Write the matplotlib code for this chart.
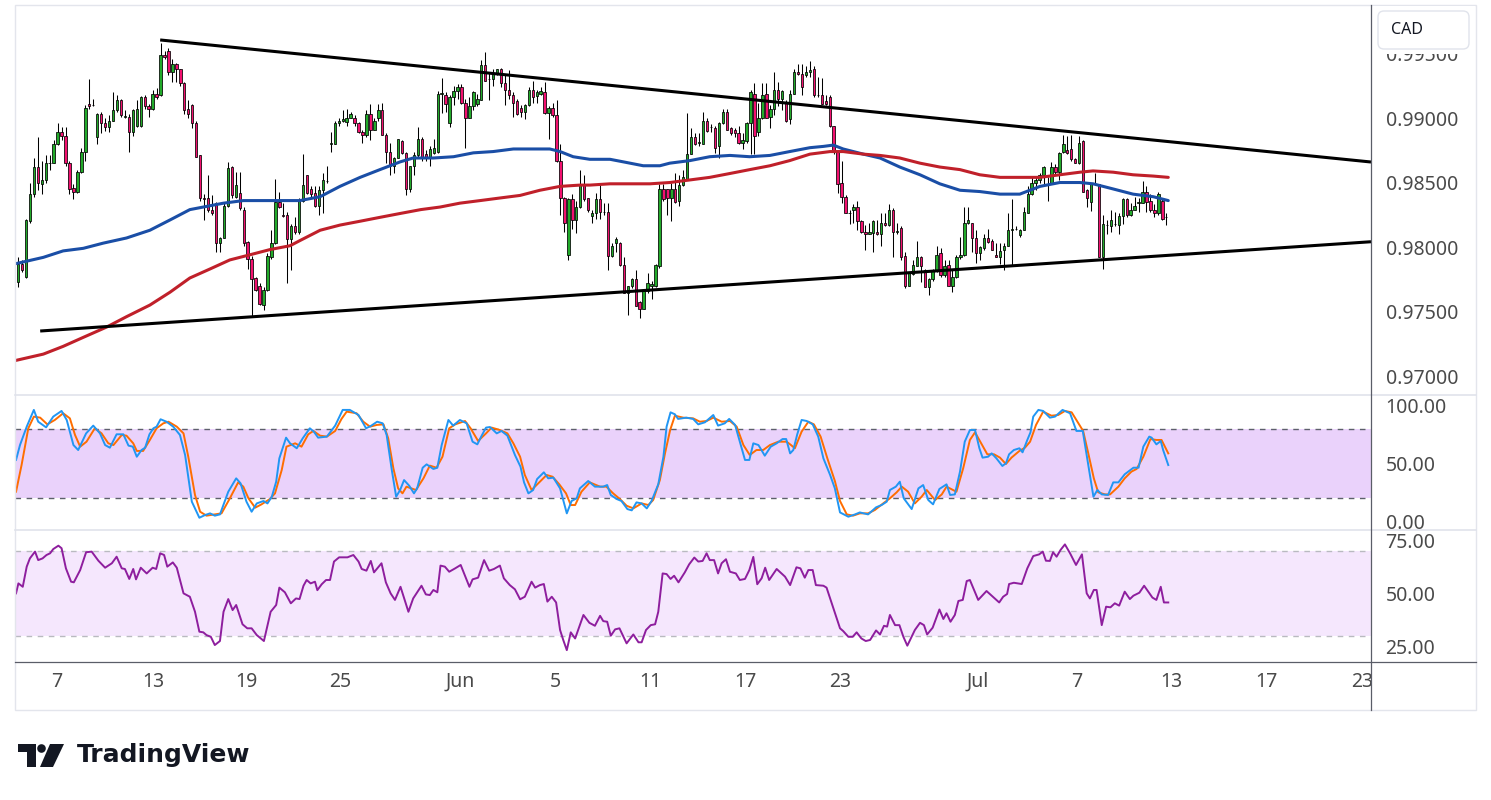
import numpy as np
import matplotlib
matplotlib.use('Agg')
import matplotlib.pyplot as plt
from matplotlib.patches import Rectangle, FancyBboxPatch, Polygon, Circle

plt.rcParams['font.family'] = ['Noto Sans', 'DejaVu Sans']

# ---------------- DATA (prices in pips, 1 pip = 0.0001) ----------------
opens = [
 9773, 9787, 9777, 9820, 9841, 9862, 9849, 9852, 9865, 9865,
 9880, 9889, 9886, 9865, 9846, 9843, 9858, 9874, 9911, 9910,
 9885, 9903, 9896, 9893, 9898, 9906, 9914, 9901, 9901, 9889,
 9894, 9894, 9916, 9909, 9907, 9919, 9918, 9949, 9952, 9936,
 9942, 9938, 9927, 9907, 9910, 9896, 9871, 9838, 9838, 9829,
 9834, 9803, 9807, 9832, 9862, 9839, 9842, 9829, 9804, 9791,
 9776, 9770, 9755, 9767, 9792, 9803, 9835, 9825, 9825, 9806,
 9816, 9812, 9836,
 9856, 9845, 9842, 9832, 9844, 9851, 9880,
 9880, 9896, 9898, 9897, 9900, 9900, 9896, 9889, 9887, 9903,
 9891, 9900, 9906, 9887, 9874, 9863, 9869, 9882, 9873, 9845,
 9863, 9871, 9884, 9872, 9869, 9873, 9874, 9919, 9918, 9896,
 9916, 9921, 9924, 9912, 9900, 9909, 9911, 9914, 9941, 9930,
 9930, 9935, 9938, 9927, 9922, 9918, 9913, 9908, 9905, 9910,
 9922, 9917, 9919, 9920, 9904, 9908, 9902, 9867, 9838, 9794,
 9837, 9821, 9831, 9849, 9838, 9824,
 9826, 9837, 9827, 9827,
 9793, 9803, 9803, 9786, 9764, 9770, 9775, 9757, 9752, 9766,
 9770, 9770, 9785, 9845, 9845, 9838, 9845, 9836, 9848, 9853,
 9872, 9885, 9881, 9880, 9898, 9893, 9892, 9878, 9896, 9905,
 9892, 9891, 9888, 9881, 9882, 9896, 9919, 9889, 9900, 9919,
 9901, 9907, 9922, 9915, 9912, 9899, 9919, 9936, 9934, 9933,
 9936, 9938, 9918, 9918, 9913, 9916, 9894, 9874, 9850, 9839,
 9826, 9829, 9831, 9820, 9812, 9810, 9811, 9812, 9810, 9819,
 9817, 9829, 9812, 9815, 9793, 9770, 9779, 9785, 9792, 9782,
 9769, 9775, 9782, 9795, 9778, 9786, 9770, 9777, 9792, 9794,
 9819, 9819, 9807, 9795, 9799, 9807, 9805, 9794, 9792, 9798,
 9801, 9813, 9814, 9809, 9813, 9826, 9841, 9850, 9852, 9856,
 9849, 9849, 9862, 9858, 9874, 9875, 9876, 9868, 9865, 9882,
 9844, 9835, 9849, 9849, 9792, 9817, 9816, 9818, 9817, 9824,
 9837, 9825, 9829, 9834, 9834, 9843, 9836, 9829, 9826, 9836, 9823]

closes = [
 9787, 9782, 9821, 9841, 9862, 9850, 9852, 9865, 9865, 9880,
 9889, 9886, 9865, 9845, 9843, 9858, 9874, 9908, 9909, 9910,
 9903, 9896, 9893, 9898, 9906, 9914, 9902, 9901, 9889, 9906,
 9907, 9916, 9909, 9907, 9919, 9916, 9949, 9947, 9936, 9942,
 9938, 9927, 9906, 9903, 9896, 9870, 9838, 9837, 9829, 9826,
 9803, 9807, 9832, 9861, 9840, 9848, 9830, 9803, 9791, 9775,
 9767, 9756, 9767, 9793, 9803, 9835, 9831, 9824, 9806, 9816,
 9812, 9836, 9848,
 9842, 9841, 9832, 9844, 9852, 9851, 9881,
 9896, 9898, 9899, 9900, 9903, 9896, 9889, 9887, 9903, 9891,
 9898, 9906, 9887, 9874, 9863, 9869, 9884, 9873, 9845, 9863,
 9871, 9884, 9869, 9869, 9876, 9877, 9919, 9919, 9911, 9916,
 9921, 9924, 9912, 9900, 9909, 9920, 9915, 9941, 9929, 9930,
 9935, 9938, 9927, 9922, 9918, 9912, 9903, 9905, 9910, 9922,
 9916, 9920, 9921, 9904, 9908, 9902, 9867, 9838, 9819, 9837,
 9821, 9831, 9849, 9837, 9829, 9826,
 9837, 9827, 9827, 9793,
 9801, 9806, 9786, 9764, 9770, 9775, 9754, 9752, 9766, 9772,
 9771, 9786, 9845, 9837, 9838, 9845, 9835, 9848, 9854, 9872,
 9885, 9880, 9881, 9898, 9890, 9893, 9877, 9896, 9905, 9891,
 9888, 9888, 9881, 9883, 9896, 9920, 9886, 9900, 9918, 9900,
 9907, 9922, 9915, 9921, 9898, 9919, 9936, 9934, 9924, 9936,
 9937, 9918, 9918, 9911, 9911, 9894, 9874, 9849, 9839, 9826,
 9826, 9831, 9820, 9812, 9810, 9812, 9820, 9810, 9819, 9817,
 9829, 9812, 9812, 9792, 9770, 9780, 9786, 9792, 9785, 9769,
 9775, 9782, 9794, 9778, 9785, 9770, 9777, 9792, 9794, 9819,
 9821, 9807, 9795, 9800, 9807, 9804, 9798, 9792, 9797, 9801,
 9813, 9814, 9814, 9813, 9827, 9841, 9850, 9852, 9856, 9862,
 9849, 9862, 9858, 9873, 9880, 9873, 9868, 9865, 9881, 9843,
 9838, 9849, 9849, 9792, 9818, 9817, 9821, 9818, 9824, 9837,
 9825, 9829, 9832, 9835, 9843, 9835, 9829, 9826, 9841, 9822, 9823]

highs = [
 9792, 9790, 9822, 9850, 9869, 9885, 9867, 9871, 9871, 9883,
 9896, 9893, 9893, 9867, 9849, 9860, 9877, 9910, 9930, 9915,
 9904, 9905, 9900, 9902, 9920, 9918, 9915, 9906, 9903, 9907,
 9914, 9917, 9918, 9911, 9922, 9923, 9958, 9952, 9954, 9946,
 9943, 9938, 9928, 9914, 9911, 9898, 9871, 9841, 9856, 9840,
 9835, 9808, 9834, 9866, 9863, 9858, 9858, 9831, 9805, 9793,
 9777, 9772, 9769, 9795, 9813, 9853, 9843, 9834, 9827, 9818,
 9823, 9838, 9872,
 9856, 9847, 9847, 9847, 9857, 9863, 9889,
 9898, 9900, 9906, 9907, 9905, 9902, 9897, 9891, 9906, 9911,
 9900, 9911, 9912, 9888, 9881, 9870, 9884, 9883, 9874, 9863,
 9874, 9893, 9885, 9875, 9878, 9884, 9921, 9931, 9920, 9918,
 9925, 9926, 9926, 9915, 9916, 9921, 9919, 9945, 9951, 9936,
 9938, 9938, 9939, 9933, 9937, 9920, 9915, 9910, 9911, 9924,
 9929, 9922, 9924, 9928, 9909, 9912, 9914, 9880, 9839, 9838,
 9841, 9836, 9860, 9856, 9838, 9829,
 9842, 9849, 9834, 9834,
 9803, 9808, 9804, 9792, 9770, 9776, 9782, 9758, 9767, 9780,
 9774, 9787, 9849, 9849, 9845, 9850, 9857, 9856, 9860, 9904,
 9892, 9888, 9888, 9905, 9900, 9895, 9894, 9897, 9907, 9907,
 9893, 9892, 9894, 9888, 9897, 9922, 9927, 9912, 9927, 9927,
 9910, 9936, 9928, 9922, 9914, 9922, 9938, 9942, 9942, 9940,
 9944, 9940, 9932, 9931, 9918, 9918, 9894, 9875, 9867, 9840,
 9829, 9833, 9836, 9821, 9817, 9819, 9821, 9821, 9826, 9826,
 9833, 9830, 9819, 9816, 9796, 9781, 9790, 9805, 9793, 9783,
 9776, 9783, 9801, 9799, 9790, 9790, 9783, 9794, 9808, 9831,
 9831, 9819, 9813, 9801, 9810, 9814, 9806, 9803, 9803, 9803,
 9826, 9837, 9816, 9814, 9831, 9847, 9854, 9854, 9857, 9863,
 9854, 9866, 9864, 9874, 9887, 9886, 9887, 9869, 9886, 9883,
 9845, 9849, 9857, 9849, 9825, 9821, 9829, 9827, 9826, 9838,
 9838, 9834, 9839, 9838, 9851, 9847, 9841, 9833, 9843, 9838, 9826]

lows = [
 9769, 9781, 9776, 9819, 9839, 9844, 9841, 9850, 9860, 9865,
 9879, 9883, 9863, 9841, 9837, 9842, 9857, 9867, 9907, 9909,
 9880, 9888, 9890, 9889, 9898, 9905, 9901, 9900, 9874, 9886,
 9893, 9893, 9907, 9901, 9906, 9915, 9917, 9946, 9933, 9928,
 9928, 9925, 9903, 9900, 9892, 9870, 9836, 9821, 9827, 9825,
 9796, 9796, 9807, 9831, 9838, 9838, 9829, 9801, 9783, 9746,
 9766, 9755, 9751, 9766, 9791, 9802, 9830, 9823, 9772, 9782,
 9810, 9810, 9835,
 9841, 9839, 9831, 9825, 9826, 9850, 9874,
 9880, 9894, 9897, 9894, 9900, 9894, 9888, 9881, 9885, 9883,
 9891, 9898, 9887, 9865, 9856, 9857, 9869, 9872, 9840, 9843,
 9856, 9870, 9867, 9867, 9863, 9872, 9873, 9904, 9905, 9893,
 9910, 9915, 9911, 9877, 9900, 9906, 9909, 9914, 9929, 9914,
 9925, 9933, 9924, 9910, 9915, 9901, 9902, 9901, 9899, 9909,
 9912, 9912, 9918, 9903, 9884, 9901, 9866, 9825, 9812, 9790,
 9814, 9811, 9830, 9836, 9827, 9819,
 9822, 9822, 9825, 9782,
 9792, 9796, 9785, 9764, 9747, 9768, 9754, 9745, 9752, 9764,
 9760, 9769, 9784, 9836, 9825, 9820, 9834, 9832, 9847, 9852,
 9872, 9879, 9878, 9880, 9889, 9889, 9873, 9869, 9895, 9891,
 9887, 9885, 9880, 9876, 9881, 9872, 9872, 9886, 9899, 9900,
 9892, 9902, 9909, 9906, 9897, 9895, 9919, 9933, 9918, 9932,
 9932, 9916, 9916, 9911, 9910, 9893, 9872, 9842, 9834, 9826,
 9818, 9819, 9813, 9811, 9798, 9810, 9796, 9809, 9801, 9816,
 9816, 9792, 9810, 9790, 9768, 9770, 9778, 9785, 9773, 9769,
 9763, 9774, 9781, 9777, 9777, 9770, 9765, 9776, 9791, 9793,
 9818, 9796, 9788, 9790, 9798, 9803, 9798, 9792, 9787, 9782,
 9801, 9786, 9813, 9808, 9813, 9826, 9840, 9844, 9850, 9847,
 9836, 9849, 9856, 9852, 9873, 9872, 9867, 9865, 9864, 9843,
 9831, 9828, 9848, 9792, 9783, 9810, 9812, 9816, 9810, 9818,
 9823, 9824, 9829, 9827, 9834, 9827, 9827, 9823, 9825, 9821, 9817]

# Moving averages (bar index, price in pips)
ma_blue = [(-0.7,9787),(6.4,9792),(11.4,9797),(16.5,9799),(21.5,9803),(27.4,9807),(33.3,9813),
 (38.4,9821),(43.4,9829),(46.8,9831),(51.9,9834),(56.9,9836),(62.0,9836),(67.0,9836),
 (71.2,9836),(76.3,9839),(81.3,9847),(86.4,9854),(91.4,9860),(96.5,9866),(99.8,9869),
 (104.9,9869),(110.0,9870),(115.0,9873),(120.0,9874),(125.1,9876),(130.1,9876),(134.3,9876),
 (136.9,9874),(140.2,9870),(144.4,9868),(149.5,9868),(152.9,9866),(157.9,9863),(162.1,9863),
 (164.6,9865),(169.7,9867),(174.7,9870),(179.8,9871),(184.8,9870),(189.9,9871),(194.9,9874),
 (200.0,9877),(203.4,9878),(205.9,9879),(208.4,9876),(213.5,9872),(217.7,9869),(222.7,9862),
 (227.8,9856),(232.8,9849),(237.9,9844),(242.9,9843),(248.0,9841),(253.0,9841),(258.1,9847),
 (263.1,9850),(268.2,9850),(271.5,9849),(276.6,9845),(281.6,9841),(286.7,9839),(290.5,9836)]

ma_red = [(-0.7,9712),(6.4,9717),(11.4,9723),(16.5,9730),(22.4,9738),(27.4,9746),(33.3,9755),
 (38.4,9765),(43.4,9776),(48.5,9783),(53.5,9790),(58.6,9794),(63.6,9798),(68.7,9801),
 (71.2,9805),(76.3,9813),(81.3,9817),(86.4,9820),(91.4,9823),(96.5,9826),(101.7,9829),
 (106.6,9831),(111.6,9834),(116.7,9836),(121.7,9838),(126.8,9840),(131.8,9844),(136.9,9847),
 (141.9,9848),(144.4,9848),(149.5,9849),(154.5,9849),(159.6,9849),(164.6,9850),(169.7,9852),
 (174.7,9854),(179.8,9857),(184.8,9860),(189.9,9863),(194.9,9867),(200.0,9872),(205.1,9874),
 (208.4,9874),(213.5,9872),(217.7,9871),(222.7,9869),(227.8,9865),(232.8,9862),(237.9,9860),
 (242.9,9856),(248.0,9854),(253.0,9854),(258.1,9854),(263.1,9856),(268.2,9858),(271.5,9859),
 (276.6,9858),(281.6,9856),(286.7,9855),(290.5,9854)]

# Trend lines (bar index, price)
upper_trend = [(35.9, 0.99605), (341.7, 0.98659)]
lower_trend = [(5.6, 0.97349), (341.7, 0.98041)]

# Stochastic %K / %D (bar index, value)
stoch_k = [(-0.5,53.2),(0.5,66.1),(2.2,82.0),(4.0,96.5),(5.1,86.3),(7.1,81.4),(8.9,90.7),(11.0,95.6),
 (12.3,87.8),(14.0,66.1),(15.2,61.8),(17.2,76.2),(19.0,82.9),(20.7,76.2),(22.0,66.1),(23.2,63.8),
 (24.9,75.4),(26.6,75.4),(27.9,65.6),(29.0,64.7),(30.0,56.0),(31.2,61.8),(32.1,63.8),(33.2,75.4),
 (34.2,80.6),(35.0,82.0),(36.0,88.4),(37.5,86.3),(39.2,82.0),(40.9,74.8),(42.2,57.5),(43.9,17.1),
 (45.8,3.2),(47.2,5.5),(48.5,7.0),(49.7,5.0),(51.0,6.1),(53.1,25.7),(55.1,37.3),(56.2,33.0),
 (57.7,17.1),(59.0,8.4),(60.3,15.6),(62.0,17.7),(63.0,15.6),(64.1,21.4),(65.2,34.4),(66.0,54.6),
 (67.7,72.5),(68.7,67.6),(70.4,63.3),(71.9,71.9),(73.7,80.6),(74.7,77.7),(75.8,72.5),(78.0,73.4),
 (80.1,82.9),(82.0,96.5),(83.8,96.5),(86.0,92.1),(87.9,80.6),(89.1,82.6),(90.7,86.3),(92.1,84.9),
 (93.1,74.8),(94.4,44.5),(95.5,21.4),(96.5,27.2),(97.5,35.8),(98.8,30.9),(100.0,24.3),(100.8,28.6),
 (102.2,46.5),(103.2,49.4),(104.9,45.4),(105.9,46.5),(107.0,66.1),(108.7,87.8),(109.9,82.9),
 (111.6,87.8),(113.3,84.9),(114.8,69.0),(116.0,66.7),(117.1,74.2),(118.2,81.2),(119.2,81.7),
 (120.9,76.2),(122.1,78.3),(123.6,74.2),(125.5,57.5),(126.9,47.4),(127.8,33.8),(128.9,24.3),
 (130.1,27.2),(131.1,36.7),(132.8,42.5),(133.9,37.3),(135.2,37.9),(136.9,28.6),(138.6,7.0),
 (139.8,17.7),(141.1,20.0),(141.9,28.6),(144.0,35.0),(145.7,30.1),(147.8,30.1),(148.8,31.5),
 (149.7,22.9),(151.2,19.4),(152.4,17.7),(153.9,10.7),(155.0,9.6),(156.2,16.5),(157.5,15.6),
 (158.8,11.3),(160.0,17.7),(161.7,32.1),(163.0,56.0),(163.8,82.0),(164.8,94.4),(165.9,92.7),
 (166.7,88.7),(168.8,89.8),(170.5,88.7),(171.8,84.0),(173.5,85.8),(175.6,92.1),(176.8,82.9),
 (178.5,84.9),(179.6,88.7),(181.1,83.5),(182.3,69.0),(183.6,53.2),(184.7,53.2),(185.7,67.6),
 (187.0,66.1),(188.6,56.9),(190.1,64.7),(191.6,67.6),(193.1,71.3),(194.0,71.3),(195.0,58.9),
 (195.8,61.8),(196.8,75.4),(197.9,87.8),(199.2,86.9),(200.7,84.0),(202.1,73.4),(203.4,54.6),
 (205.1,40.2),(206.3,28.6),(207.6,7.8),(209.7,4.1),(211.4,6.1),(212.6,7.8),(214.7,6.1),
 (216.7,12.2),(218.1,14.2),(219.4,17.1),(220.2,27.2),(221.7,30.1),(222.7,34.4),(223.7,20.0),
 (225.7,10.7),(227.4,28.6),(228.6,31.5),(229.9,18.5),(231.1,14.8),(232.7,28.1),(234.5,32.1),
 (235.4,22.9),(236.6,23.4),(237.9,43.1),(239.1,69.0),(240.4,79.1),(241.7,79.1),(242.8,63.3),
 (243.6,55.2),(245.0,56.0),(245.9,58.9),(247.1,54.6),(248.6,48.0),(249.5,50.3),(250.3,58.1),
 (251.5,61.8),(252.9,63.3),(253.7,59.8),(254.9,70.5),(255.7,77.1),(256.4,90.7),(257.7,96.5),
 (258.9,95.6),(260.6,89.8),(261.9,90.7),(263.8,96.5),(265.7,93.6),(267.3,78.3),(268.9,78.3),
 (270.3,48.8),(271.6,21.4),(272.6,27.2),(273.7,23.4),(275.3,22.9),(276.6,33.8),(277.9,33.8),
 (279.5,40.8),(281.7,46.5),(283.0,46.5),(284.2,64.7),(285.7,73.4),(286.3,72.5),(287.5,66.7),
 (288.6,69.6),(289.2,61.8),(290.5,48.8)]

stoch_d = [(-0.5,25.7),(0.9,48.8),(2.6,80.6),(4.0,90.7),(5.6,89.8),(7.4,84.0),(9.3,87.8),(11.4,93.6),
 (13.1,89.2),(14.4,74.8),(15.7,64.7),(17.3,69.0),(19.4,80.6),(21.1,76.2),(22.8,67.6),(24.1,66.1),
 (26.2,74.8),(27.4,74.2),(29.1,67.6),(30.0,61.0),(31.6,61.0),(33.3,70.5),(35.0,80.6),(36.7,84.9),
 (38.0,86.3),(40.1,82.0),(41.8,76.2),(43.0,56.0),(44.7,22.9),(46.0,8.4),(47.6,5.0),(49.7,6.1),
 (51.4,7.0),(53.5,20.0),(55.6,33.8),(56.9,30.1),(58.2,20.0),(59.9,11.9),(61.5,14.8),(63.6,19.4),
 (64.9,24.3),(66.6,44.5),(67.8,64.7),(70.0,67.6),(71.6,64.7),(73.3,75.4),(74.6,78.3),(76.3,74.2),
 (78.0,73.4),(80.1,78.3),(81.7,88.7),(83.0,95.0),(85.5,93.6),(87.2,86.3),(88.9,82.0),(90.6,83.5),
 (92.3,84.0),(93.5,71.9),(94.8,45.9),(96.0,28.6),(97.1,24.3),(98.1,30.1),(100.5,27.2),(102.4,37.3),
 (104.0,48.3),(105.7,46.5),(107.2,56.0),(108.9,80.6),(110.4,84.0),(112.9,86.9),(114.3,80.6),
 (116.2,69.6),(118.2,76.2),(119.6,81.2),(121.7,79.1),(123.6,76.2),(125.1,67.6),(126.8,56.0),
 (128.0,40.2),(129.7,27.2),(131.4,33.0),(133.5,40.2),(135.0,38.7),(136.7,32.1),(138.4,24.3),
 (139.6,14.2),(140.7,14.2),(142.3,25.7),(144.4,33.8),(147.0,30.1),(148.6,30.1),(150.3,24.3),
 (152.0,19.4),(153.7,13.6),(155.4,11.3),(157.5,15.6),(159.2,14.2),(160.4,18.5),(162.1,35.8),
 (163.4,58.9),(164.7,79.1),(165.9,91.5),(168.0,89.8),(170.5,89.2),(172.2,86.3),(173.9,86.9),
 (175.6,89.8),(177.7,86.3),(179.8,86.9),(181.5,82.0),(183.2,66.1),(184.8,57.5),(186.5,61.8),
 (188.2,61.8),(189.9,66.1),(192.0,69.0),(194.1,69.0),(195.0,66.7),(196.2,63.3),(197.9,77.7),
 (199.6,86.3),(201.0,84.0),(202.7,73.4),(204.4,54.6),(206.3,35.0),(207.6,17.7),(209.3,6.1),
 (210.9,5.0),(212.6,7.0),(214.7,7.0),(216.4,9.9),(218.5,15.6),(220.2,20.0),(221.9,25.2),
 (223.2,30.1),(224.8,25.7),(226.5,15.6),(228.2,21.4),(229.5,27.2),(231.6,18.5),(233.3,23.4),
 (234.5,30.1),(237.0,25.7),(238.7,45.9),(240.4,70.5),(241.7,77.1),(243.1,68.5),(244.8,58.1),
 (246.5,58.1),(248.0,55.2),(249.5,49.7),(250.9,55.2),(252.9,61.0),(254.3,63.8),(255.6,69.0),
 (257.1,83.5),(258.9,95.0),(261.0,91.5),(262.7,92.1),(264.4,95.6),(266.1,94.4),(267.8,84.9),
 (269.0,78.3),(270.3,58.9),(271.7,37.3),(272.8,25.2),(274.5,23.4),(275.8,23.4),(277.9,30.1),
 (279.5,37.3),(281.2,43.1),(282.5,45.4),(284.2,56.0),(286.0,71.3),(287.5,70.5),(288.8,70.5),
 (290.5,58.9)]

rsi = [(-0.5,50.0),(0.1,54.7),(1.2,53.1),(2.2,62.6),(3.0,66.5),(4.3,69.7),(5.1,65.7),(6.2,66.5),
 (7.2,68.1),(8.1,68.9),(8.9,70.9),(10.2,72.5),(11.0,71.3),(12.1,61.8),(13.4,55.5),(14.1,55.2),
 (15.7,61.0),(17.2,69.4),(18.6,69.7),(20.3,65.4),(22.0,62.1),(23.7,64.2),(24.9,67.3),(26.2,61.8),
 (27.0,61.5),(28.1,56.8),(29.1,61.5),(29.8,56.6),(31.0,62.1),(32.5,59.4),(34.0,62.1),(34.9,61.5),
 (35.9,68.9),(36.9,68.1),(37.7,62.6),(39.1,64.6),(40.1,62.1),(41.8,50.0),(43.4,48.4),(44.7,41.3),
 (45.8,31.9),(46.8,31.6),(47.6,30.3),(48.7,29.5),(49.7,25.6),(51.0,27.5),(51.9,41.3),(53.1,47.3),
 (54.2,42.1),(55.1,44.5),(56.7,35.4),(57.9,33.5),(59.0,33.5),(60.3,30.3),(62.1,27.5),(63.8,41.3),
 (65.2,44.5),(66.0,52.7),(67.4,50.5),(68.9,45.3),(70.2,47.6),(71.1,47.3),(72.1,53.6),(72.9,56.3),
 (73.9,54.7),(75.0,55.5),(75.6,51.5),(76.7,54.3),(77.8,56.3),(78.8,56.3),(79.8,65.0),(81.1,67.0),
 (83.2,67.0),(84.7,68.1),(86.0,65.0),(86.8,61.5),(88.0,60.7),(89.1,65.3),(89.9,59.9),(91.8,64.2),
 (92.9,55.2),(94.1,50.0),(95.2,46.9),(96.6,53.1),(98.6,41.3),(99.8,47.6),(101.9,53.6),(103.0,49.5),
 (104.0,49.2),(104.9,51.6),(105.9,50.5),(106.7,63.1),(107.8,62.6),(108.9,60.2),(110.4,61.8),
 (111.8,63.4),(114.0,53.1),(114.8,56.6),(116.2,57.4),(117.7,65.7),(119.0,60.7),(120.2,61.5),
 (121.7,63.1),(122.7,57.1),(124.2,53.9),(125.5,51.9),(126.8,47.2),(128.0,48.4),(129.7,55.5),
 (130.6,52.7),(131.8,53.9),(132.8,54.4),(133.7,46.1),(134.8,48.4),(135.9,45.7),(136.9,32.7),
 (137.7,28.0),(138.6,23.2),(139.6,31.6),(140.7,28.7),(142.8,39.8),(144.3,36.1),(145.7,34.7),
 (147.0,39.4),(147.8,36.9),(148.8,36.6),(149.7,30.0),(150.8,33.0),(151.9,33.5),(153.7,26.4),
 (155.4,30.6),(156.7,26.9),(157.5,26.9),(158.6,32.7),(159.8,35.0),(160.9,35.4),(161.7,41.3),
 (162.8,59.4),(163.8,59.1),(164.8,56.8),(165.7,58.3),(166.8,55.2),(168.4,59.9),(169.5,63.7),
 (170.8,66.9),(171.8,65.0),(172.9,65.3),(173.9,68.9),(174.7,65.7),(175.8,65.7),(176.8,59.4),
 (177.7,64.2),(178.8,66.1),(179.8,60.2),(181.3,59.4),(182.3,56.3),(183.6,56.8),(184.7,61.0),
 (185.7,67.2),(186.7,54.3),(187.8,57.1),(188.7,62.1),(189.7,56.3),(191.6,61.5),(193.7,57.9),
 (195.0,53.9),(196.6,62.3),(197.6,61.8),(198.7,57.4),(199.6,61.0),(200.7,61.0),(201.5,53.9),
 (203.4,53.6),(204.2,52.7),(205.5,45.3),(206.6,39.0),(207.6,33.5),(208.4,32.2),(209.7,29.5),
 (210.8,29.5),(211.8,31.6),(213.0,28.7),(214.1,27.5),(215.2,28.0),(216.7,32.5),(217.7,30.6),
 (218.7,34.7),(219.5,34.3),(220.2,39.8),(221.5,35.0),(222.6,35.0),(223.6,29.5),(224.6,25.3),
 (226.5,32.7),(227.8,36.1),(228.8,35.0),(229.6,30.6),(231.0,33.8),(232.7,42.4),(233.7,37.9),
 (234.5,40.6),(235.5,36.6),(236.6,39.8),(237.5,46.4),(238.6,46.9),(239.6,55.8),(240.4,56.3),
 (242.5,46.9),(244.6,51.1),(247.8,45.7),(248.8,48.4),(249.8,49.7),(250.3,54.4),(251.5,55.0),
 (253.5,54.4),(254.9,61.8),(256.4,67.6),(257.9,68.4),(258.8,69.7),(259.6,65.4),(260.6,65.3),
 (261.4,69.4),(262.3,67.3),(263.3,70.5),(264.4,73.1),(265.7,68.9),(267.2,63.4),(268.7,68.4),
 (269.9,50.0),(270.7,47.6),(271.7,51.6),(272.4,51.6),(273.7,35.0),(274.8,43.7),(275.9,43.4),
 (277.0,45.3),(278.1,44.2),(279.5,50.8),(280.8,47.3),(281.7,48.9),(283.2,50.3),(284.4,53.6),
 (286.5,48.0),(287.5,46.9),(288.6,53.1),(289.4,45.7),(290.5,45.7)]

# Time axis labels (bar index, label)
time_ticks = [9.8, 34.1, 57.8, 81.3, 111.6, 135.6, 159.6, 183.6, 207.6, 242.4, 267.4, 291.4, 315.4, 339.4]
time_labels = ['7', '13', '19', '25', 'Jun', '5', '11', '17', '23', 'Jul', '7', '13', '17', '23']

price_ticks = [0.970, 0.975, 0.980, 0.985, 0.990, 0.995]
stoch_ticks = [0, 50, 100]
rsi_ticks = [25, 50, 75]

# ---------------- FIGURE ----------------
W, H = 1491, 800
fig = plt.figure(figsize=(W / 100, H / 100), dpi=100)
fig.patch.set_facecolor('white')

def rect(x0, y0, x1, y1):
    return [x0 / W, 1 - y1 / H, (x1 - x0) / W, (y1 - y0) / H]

ax = fig.add_axes(rect(15, 5, 1371, 395))
ax_st = fig.add_axes(rect(15, 395, 1371, 530), sharex=ax)
ax_rs = fig.add_axes(rect(15, 530, 1371, 662), sharex=ax)

label_color = '#4a4a4a'
for a in (ax, ax_st, ax_rs):
    for s in a.spines.values():
        s.set_visible(False)
    a.set_facecolor('none')
    a.yaxis.tick_right()
    a.tick_params(axis='y', length=0, pad=10.5, labelsize=14, labelcolor=label_color)
    a.tick_params(axis='x', length=0, labelbottom=False)

# candles
o = np.array(opens) / 1e4
c = np.array(closes) / 1e4
h = np.maximum(np.array(highs) / 1e4, np.maximum(o, c))
l = np.minimum(np.array(lows) / 1e4, np.minimum(o, c))
idx = np.arange(len(o))
green, pink = '#22aa2a', '#f2116f'
ax.vlines(idx, l, h, color='black', lw=0.75, zorder=3)
bottom = np.minimum(o, c)
height = np.maximum(np.abs(c - o), 0.00002)
cols = [green if cc >= oo else pink for oo, cc in zip(o, c)]
ax.bar(idx, height, bottom=bottom, width=0.6, color=cols, edgecolor='black',
       linewidth=0.55, zorder=4)

# moving averages
bx, by = zip(*ma_blue)
ax.plot(bx, np.array(by) / 1e4, color='#1a4ea6', lw=2.2, zorder=5, solid_capstyle='round',
        solid_joinstyle='round')
rx, ry = zip(*ma_red)
ax.plot(rx, np.array(ry) / 1e4, color='#c0202a', lw=2.2, zorder=5, solid_capstyle='round',
        solid_joinstyle='round')

# trend lines
for tl in (upper_trend, lower_trend):
    tx, ty = zip(*tl)
    ax.plot(tx, ty, color='black', lw=2.2, zorder=6, solid_capstyle='butt')

ax.set_xlim(-0.76, 341.7)
ax.set_ylim(0.96853, 0.99876)
ax.set_yticks(price_ticks)
ax.set_yticklabels(['%.5f' % v for v in price_ticks])
for t in ax.get_yticklabels():
    if t.get_text() == '0.98000':
        t.set_fontweight('bold')

# stochastic
ax_st.axhspan(20, 80, color='#ead2fb', lw=0, zorder=1)
for lv in (20, 80):
    ax_st.axhline(lv, color='#5d606b', lw=1.0, ls=(0, (4, 4)), zorder=2)
kx, ky = zip(*stoch_k)
dx, dy = zip(*stoch_d)
ax_st.plot(kx, ky, color='#2196f3', lw=1.4, zorder=4)
ax_st.plot(dx, dy, color='#ff6d00', lw=1.4, zorder=3)
ax_st.set_ylim(-7.4, 109.4)
ax_st.set_yticks(stoch_ticks)
ax_st.set_yticklabels(['%.2f' % v for v in stoch_ticks])

# RSI
ax_rs.axhspan(30, 70, color='#f5e7fd', lw=0, zorder=1)
for lv in (30, 70):
    ax_rs.axhline(lv, color='#b9bac0', lw=1.0, ls=(0, (4, 4)), zorder=2)
qx, qy = zip(*rsi)
ax_rs.plot(qx, qy, color='#8e1e9e', lw=1.4, zorder=3)
ax_rs.set_ylim(17.6, 79.9)
ax_rs.set_yticks(rsi_ticks)
ax_rs.set_yticklabels(['%.2f' % v for v in rsi_ticks])

ax_rs.set_xticks(time_ticks)
ax_rs.set_xticklabels(time_labels)
ax_rs.tick_params(axis='x', length=0, pad=7, labelsize=14, labelcolor=label_color,
                  labelbottom=True)

# ---------------- OVERLAY (frame, axis lines, badges, logo) ----------------
ov = fig.add_axes([0, 0, 1, 1])
ov.set_xlim(0, W)
ov.set_ylim(H, 0)
ov.axis('off')
ov.patch.set_alpha(0)

ov.add_patch(Rectangle((15, 5), 1461, 705, fill=False, ec='#e3e5ec', lw=1.0))
for yy in (395, 530):
    ov.plot([15, 1476], [yy, yy], color='#e0e3eb', lw=1.2)
ov.plot([15, 1476], [662, 662], color='#5a5d68', lw=0.9)
ov.plot([1371, 1371], [5, 710], color='#5a5d68', lw=0.9)

# currency badge
ov.add_patch(Rectangle((1373, 6), 102, 48, fc='white', ec='none'))
ov.add_patch(FancyBboxPatch((1378, 11), 91, 38, boxstyle='round,pad=0,rounding_size=6',
                            fc='white', ec='#e0e3eb', lw=1.0))
ov.text(1391, 30, 'CAD', fontsize=11.5, color='#131722', va='center', ha='left')

# TradingView logo
ov.add_patch(Polygon([(18, 744), (36, 744), (36, 767), (27, 767), (27, 752), (18, 752)],
                     closed=True, fc='#131722', ec='none'))
ov.add_patch(Circle((41.5, 748.5), 4.3, fc='#131722', ec='none'))
ov.add_patch(Polygon([(50, 744), (64, 744), (53, 767), (40, 767)], closed=True,
                     fc='#131722', ec='none'))
ov.text(77, 755, 'TradingView', fontsize=18, fontweight='bold', color='#131722',
        va='center', ha='left', family=['DejaVu Sans'])

fig.savefig('out.png', dpi=100, facecolor='white')
